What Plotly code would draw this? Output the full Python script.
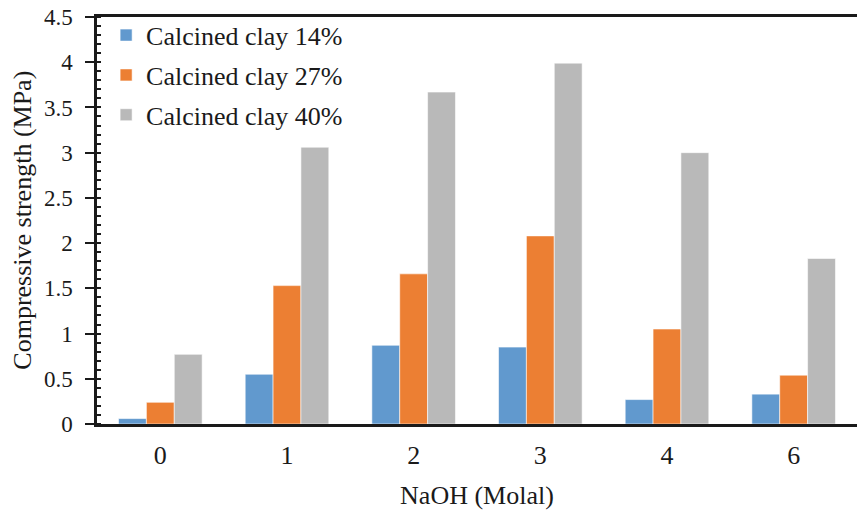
import plotly.graph_objects as go

categories = ["0", "1", "2", "3", "4", "6"]
clay14 = [0.06, 0.55, 0.87, 0.85, 0.27, 0.33]
clay27 = [0.24, 1.53, 1.66, 2.08, 1.05, 0.54]
clay40 = [0.77, 3.06, 3.67, 3.99, 3.00, 1.83]
series_names = ["Calcined clay 14%", "Calcined clay 27%", "Calcined clay 40%"]
colors = ["#6199CE", "#EC7F33", "#B9B9B9"]

FONT = "Liberation Serif, Times New Roman, serif"
FS = 26
TXT = "#1a1a1a"

fig = go.Figure()
for name, vals, col in zip(series_names, [clay14, clay27, clay40], colors):
    fig.add_trace(go.Bar(
        x=categories, y=vals, name=name, legendgroup=name,
        marker=dict(color=col, line=dict(width=0.8, color="rgba(255,255,255,0.7)")),
    ))

fig.update_layout(
    width=857, height=510,
    margin=dict(l=97, r=0, t=17, b=86),
    paper_bgcolor="white", plot_bgcolor="white",
    barmode="group", bargap=0.34, bargroupgap=0,
    font=dict(family=FONT, size=FS, color=TXT),
    legend=dict(
        x=0.012, y=1.013, xanchor="left", yanchor="top",
        bgcolor="rgba(0,0,0,0)", font=dict(family=FONT, size=FS, color=TXT),
        tracegroupgap=3, itemwidth=30,
    ),
    showlegend=True,
    annotations=[dict(
        text="Compressive strength (MPa)", xref="paper", yref="paper",
        x=-0.0985, y=0.5, xanchor="center", yanchor="middle", textangle=-90,
        showarrow=False, font=dict(family=FONT, size=FS, color=TXT),
    )],
)
fig.update_xaxes(
    type="category", showline=True, linecolor=TXT, linewidth=2.5,
    mirror=True, ticks="", showgrid=False, ticklabelstandoff=6,
    tickfont=dict(family=FONT, size=FS, color=TXT),
    title=dict(text="NaOH (Molal)", font=dict(family=FONT, size=FS, color=TXT), standoff=20),
)
fig.update_yaxes(
    range=[0, 4.5], dtick=0.5, tick0=0, showline=True, linecolor=TXT, linewidth=2.5,
    ticks="outside", ticklen=9, tickwidth=2, tickcolor=TXT, showgrid=False, zeroline=False,
    ticklabelposition="outside", ticklabelstandoff=8,
    minor=dict(ticks="inside", dtick=0.1, ticklen=4, tickwidth=1.5, tickcolor=TXT, showgrid=False),
    tickfont=dict(family=FONT, size=23, color=TXT),
)

fig.write_html("out.html")
